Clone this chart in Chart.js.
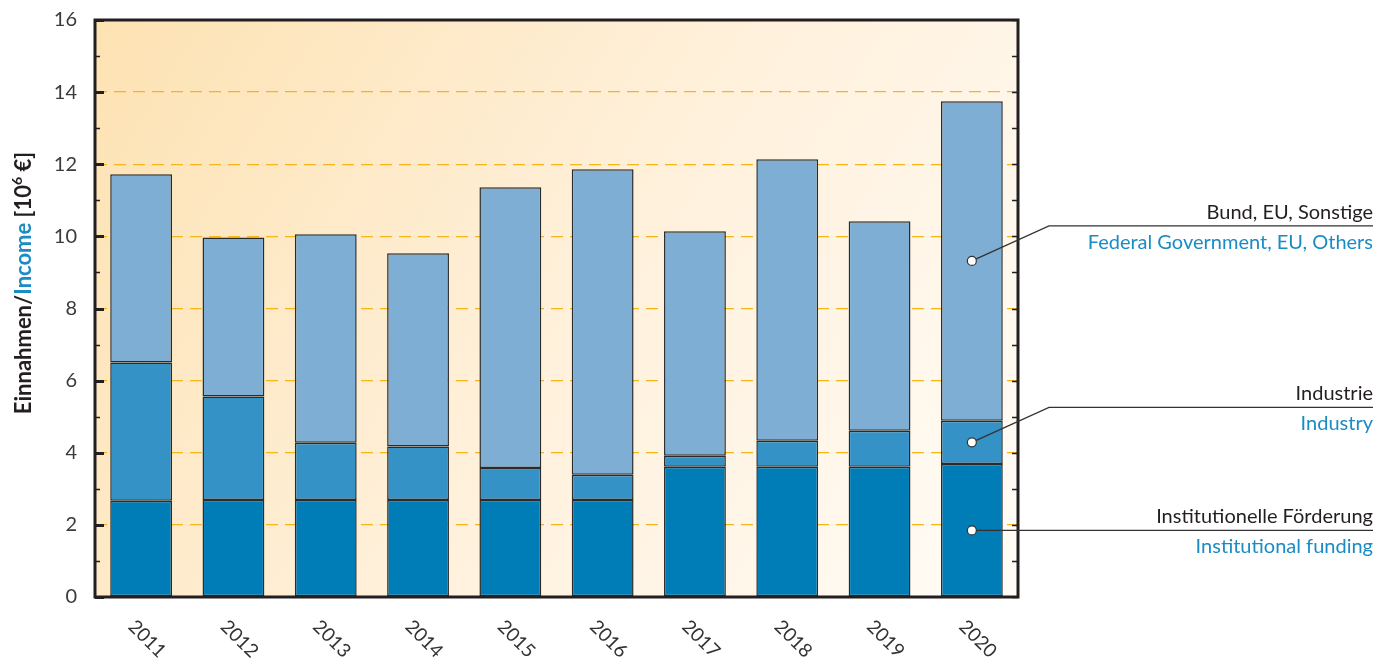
<!DOCTYPE html>
<html>
<head>
<meta charset="utf-8">
<script src="https://cdn.jsdelivr.net/npm/chart.js@4"></script>
<style>
  html, body { margin: 0; padding: 0; background: #fff; }
  #wrap { width: 1391px; height: 666px; }
</style>
</head>
<body>
<div id="wrap"><canvas id="incomeChart" width="1391" height="666"></canvas></div>
<script>
// Einnahmen je Jahr in Mio. Euro
const years = ['2011', '2012', '2013', '2014', '2015', '2016', '2017', '2018', '2019', '2020'];
const institutional = [2.67, 2.69, 2.69, 2.69, 2.69, 2.69, 3.61, 3.61, 3.61, 3.69];
const industry = [3.83, 2.87, 1.59, 1.48, 0.89, 0.70, 0.31, 0.72, 1.00, 1.20];
const others = [5.22, 4.41, 5.78, 5.36, 7.78, 8.47, 6.22, 7.81, 5.81, 8.86];
const yTicks = [0, 2, 4, 6, 8, 10, 12, 14, 16];

const legendDe = ['Institutionelle Förderung', 'Industrie', 'Bund, EU, Sonstige'];
const legendEn = ['Institutional funding', 'Industry', 'Federal Government, EU, Others'];

const FONT = 'Lato, "Open Sans", sans-serif';
const DARK = '#231f20';
const BLUE = '#1b8bc4';

// background gradient inside the plot
const bgPlugin = {
    id: 'bg',
    beforeDraw(chart) {
        const { ctx, chartArea: a } = chart;
        const g = ctx.createLinearGradient(a.left, a.top, a.right, a.bottom);
        g.addColorStop(0, '#fde2b2');
        g.addColorStop(0.5, '#fff0da');
        g.addColorStop(1, '#fffcf7');
        ctx.save();
        ctx.fillStyle = g;
        ctx.fillRect(a.left, a.top, a.right - a.left, a.bottom - a.top);
        ctx.restore();
    }
};

// frame, ticks, x labels, axis title and legend callouts
const decoPlugin = {
    id: 'deco',
    afterDraw(chart) {
        const { ctx, chartArea: a, scales } = chart;
        const y = scales.y, x = scales.x;
        ctx.save();

        // ticks
        ctx.strokeStyle = DARK;
        for (let v = 0; v <= 16; v++) {
            const py = Math.round(y.getPixelForValue(v)) + 0.5;
            const major = v % 2 === 0;
            ctx.lineWidth = major ? 3 : 1.5;
            ctx.beginPath();
            ctx.moveTo(a.left, py);
            ctx.lineTo(a.left + (major ? 9 : 5), py);
            ctx.stroke();
            ctx.lineWidth = 1.5;
            ctx.beginPath();
            ctx.moveTo(a.right, py);
            ctx.lineTo(a.right - 6, py);
            ctx.stroke();
        }

        // frame
        ctx.lineWidth = 3;
        ctx.strokeRect(a.left, a.top, a.right - a.left, a.bottom - a.top);

        // x labels, rotated downwards
        ctx.fillStyle = '#333';
        ctx.font = '19px ' + FONT;
        ctx.textAlign = 'center';
        ctx.textBaseline = 'middle';
        years.forEach((yr, i) => {
            const px = x.getPixelForValue(i) + 6;
            ctx.save();
            ctx.translate(px, a.bottom + 42);
            ctx.rotate(Math.PI / 4);
            ctx.fillText(yr, 0, 0);
            ctx.restore();
        });

        // y axis title
        ctx.save();
        ctx.translate(31, 283);
        ctx.rotate(-Math.PI / 2);
        const big = '700 22px ' + FONT, small = '700 14px ' + FONT;
        ctx.font = big;
        ctx.textBaseline = 'alphabetic';
        ctx.textAlign = 'left';
        const parts = [['Einnahmen/', DARK], ['Income', BLUE], [' [10', DARK]];
        let total = 0;
        parts.forEach(p => total += ctx.measureText(p[0]).width);
        ctx.font = small;
        const supW = ctx.measureText('6').width;
        ctx.font = big;
        const tailW = ctx.measureText(' €]').width;
        total += supW + tailW;
        let cx = -total / 2;
        parts.forEach(p => {
            ctx.fillStyle = p[1];
            ctx.fillText(p[0], cx, 0);
            cx += ctx.measureText(p[0]).width;
        });
        ctx.font = small;
        ctx.fillStyle = DARK;
        ctx.fillText('6', cx, -9);
        cx += supW;
        ctx.font = big;
        ctx.fillText(' €]', cx, 0);
        ctx.restore();

        // legend callouts on the last bar
        const last = years.length - 1;
        const px = x.getPixelForValue(last);
        const segs = [
            [0, institutional[last]],
            [institutional[last], institutional[last] + industry[last]],
            [institutional[last] + industry[last], institutional[last] + industry[last] + others[last]]
        ];
        const textRight = 1373;
        const elbowX = 1049;
        segs.forEach((s, i) => {
            const cy = y.getPixelForValue((s[0] + s[1]) / 2);
            const ly = i === 0 ? cy : cy - 35;
            ctx.strokeStyle = '#333';
            ctx.lineWidth = 1.3;
            ctx.beginPath();
            ctx.moveTo(px, cy);
            if (i > 0) ctx.lineTo(elbowX, ly);
            ctx.lineTo(textRight, ly);
            ctx.stroke();
            ctx.beginPath();
            ctx.arc(px, cy, 4.5, 0, Math.PI * 2);
            ctx.fillStyle = '#fff';
            ctx.fill();
            ctx.lineWidth = 1.2;
            ctx.stroke();

            ctx.textAlign = 'right';
            ctx.textBaseline = 'alphabetic';
            ctx.font = '20px ' + FONT;
            ctx.fillStyle = DARK;
            ctx.fillText(legendDe[i], textRight, ly - 7);
            ctx.fillStyle = BLUE;
            ctx.fillText(legendEn[i], textRight, ly + 23);
        });

        ctx.restore();
    }
};

const barStyle = { borderColor: '#2b2b2b', borderWidth: 1.5, borderSkipped: false, barPercentage: 0.67, categoryPercentage: 1 };

const ctx = document.getElementById('incomeChart').getContext('2d');
const incomeChart = new Chart(ctx, {
    type: 'bar',
    data: {
        labels: years,
        datasets: [
            Object.assign({ label: legendEn[0], data: institutional, backgroundColor: '#007cb7' }, barStyle),
            Object.assign({ label: legendEn[1], data: industry, backgroundColor: '#3592c6' }, barStyle),
            Object.assign({ label: legendEn[2], data: others, backgroundColor: '#7eaed4' }, barStyle)
        ]
    },
    options: {
        responsive: false,
        animation: false,
        layout: { padding: { top: 20, right: 373, left: 0, bottom: 0 } },
        plugins: {
            legend: { display: false },
            tooltip: { enabled: false }
        },
        scales: {
            x: {
                stacked: true,
                grid: { display: false, drawTicks: false },
                border: { display: false },
                ticks: { display: false },
                afterFit(s) { s.height = 69; }
            },
            y: {
                stacked: true,
                min: 0,
                max: 16,
                afterBuildTicks(s) { s.ticks = yTicks.map(v => ({ value: v })); },
                afterFit(s) { s.width = 95; s.paddingTop = 0; s.paddingBottom = 0; },
                border: { display: false, dash: [12, 7] },
                grid: {
                    drawTicks: false,
                    color: c => (c.tick && c.tick.value > 0 && c.tick.value < 16) ? '#f6b519' : 'rgba(0,0,0,0)',
                    lineWidth: 1.3
                },
                ticks: {
                    padding: 18,
                    color: '#3a3a3a',
                    font: { family: FONT, size: 20 }
                }
            }
        }
    },
    plugins: [bgPlugin, decoPlugin]
});
</script>
</body>
</html>
